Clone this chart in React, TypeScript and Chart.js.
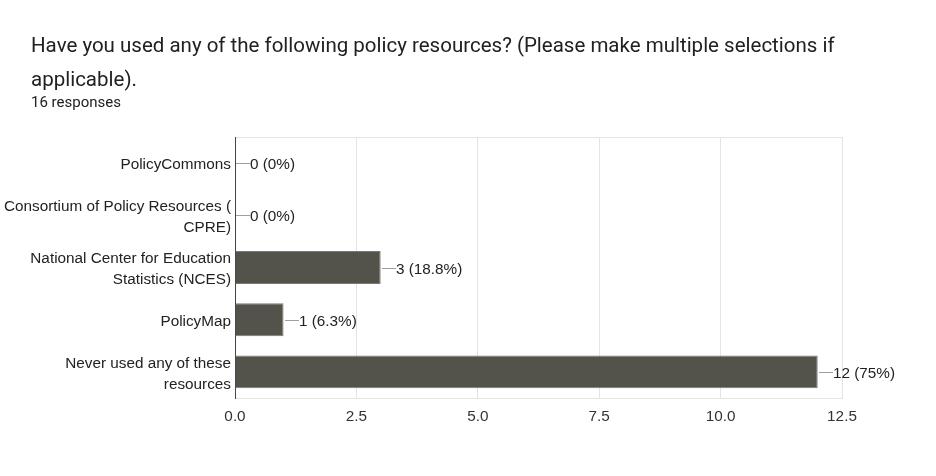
import React, { useEffect, useRef } from "react";
import { Chart, registerables } from "chart.js";

Chart.register(...registerables);

const titleLines = [
  "Have you used any of the following policy resources? (Please make multiple selections if",
  "applicable).",
];
const subtitle = "16 responses";
const categories = [
  ["PolicyCommons"],
  ["Consortium of Policy Resources (", "CPRE)"],
  ["National Center for Education", "Statistics (NCES)"],
  ["PolicyMap"],
  ["Never used any of these", "resources"],
];
const counts = [0, 0, 3, 1, 12];
const percentLabels = ["0%", "0%", "18.8%", "6.3%", "75%"];
const xMin = 0;
const xMax = 12.5;
const xStep = 2.5;

const FONT = "'Liberation Sans', Arial, sans-serif";
const FSIZE = 15.3;

const dataLabelPlugin = {
  id: "dataLabels",
  afterDatasetsDraw(chart: any) {
    const ctx = chart.ctx;
    const meta = chart.getDatasetMeta(0);
    ctx.save();
    meta.data.forEach((el: any, i: number) => {
      const x = Math.round(el.x);
      const y = Math.round(el.y) + 0.5;
      ctx.strokeStyle = "#9e9e9e";
      ctx.lineWidth = 1;
      ctx.beginPath();
      ctx.moveTo(x + 1, y);
      ctx.lineTo(x + 15, y);
      ctx.stroke();
      ctx.fillStyle = "#222222";
      ctx.font = `${FSIZE}px ${FONT}`;
      ctx.textAlign = "left";
      ctx.textBaseline = "middle";
      ctx.fillText(`${counts[i]} (${percentLabels[i]})`, x + 15, y + 1);
    });
    ctx.restore();
  },
};

export default function App() {
  const ref = useRef<HTMLCanvasElement | null>(null);
  useEffect(() => {
    if (!ref.current) return;
    const chart = new Chart(ref.current, {
      type: "bar",
      data: {
        labels: categories,
        datasets: [
          {
            data: counts,
            backgroundColor: "#53534b",
            borderColor: "#7a7a72",
            borderWidth: 1,
            barPercentage: 0.63,
            categoryPercentage: 1,
          },
        ],
      },
      options: {
        indexAxis: "y",
        animation: false,
        responsive: false,
        maintainAspectRatio: false,
        layout: { padding: { top: 137, right: 94, left: 0, bottom: 0 } },
        plugins: {
          legend: { display: false },
          tooltip: { enabled: false },
          title: { display: false },
        },
        scales: {
          x: {
            type: "linear",
            min: xMin,
            max: xMax,
            ticks: {
              stepSize: xStep,
              callback: (v: any) => Number(v).toFixed(1),
              font: { family: FONT, size: FSIZE },
              color: "#333333",
              padding: 10,
            },
            grid: { color: "#e3e3e3", drawTicks: false },
            border: { color: "#e3e3e3" },
            afterFit: (s: any) => {
              s.height = 78;
            },
          },
          y: {
            ticks: {
              font: { family: FONT, size: FSIZE, lineHeight: 1.36 },
              color: "#222222",
              padding: 4,
              labelOffset: 2,
            },
            grid: {
              drawTicks: false,
              color: (c: any) =>
                c.index === 0 || c.index === categories.length ? "#e3e3e3" : "rgba(0,0,0,0)",
            },
            border: { color: "#444444", width: 1 },
            afterFit: (s: any) => {
              s.width = 235;
            },
          },
        },
      },
      plugins: [dataLabelPlugin],
    });
    return () => chart.destroy();
  }, []);

  return (
    <div
      style={{
        position: "fixed",
        left: 0,
        top: 0,
        width: 936,
        height: 476,
        background: "#ffffff",
        overflow: "hidden",
      }}
    >
      <canvas ref={ref} width={936} height={476} style={{ position: "absolute", left: 0, top: 0 }} />
      <div
        style={{
          position: "absolute",
          left: 31,
          top: 28,
          fontFamily: "Roboto, 'Noto Sans', sans-serif",
          fontSize: 20.5,
          lineHeight: "34px",
          color: "#202124",
          whiteSpace: "nowrap",
        }}
      >
        {titleLines.map((l, i) => (
          <div key={i}>{l}</div>
        ))}
      </div>
      <div
        style={{
          position: "absolute",
          left: 31,
          top: 92,
          fontFamily: "Roboto, 'Noto Sans', sans-serif",
          fontSize: 15,
          lineHeight: "20px",
          color: "#202124",
          whiteSpace: "nowrap",
        }}
      >
        {subtitle}
      </div>
    </div>
  );
}
